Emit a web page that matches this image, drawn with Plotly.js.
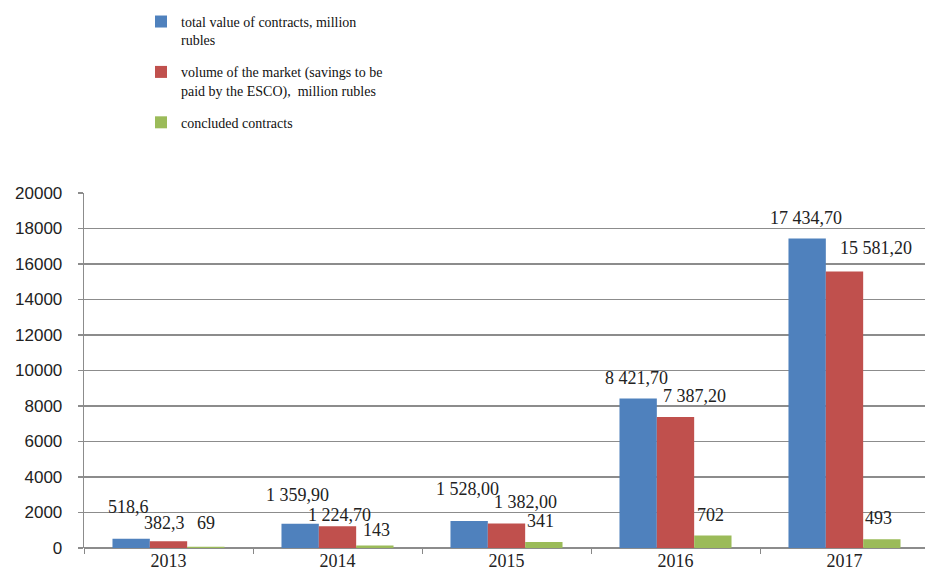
<!DOCTYPE html>
<html>
<head>
<meta charset="utf-8">
<script src="https://cdn.plot.ly/plotly-3.0.1.min.js"></script>
<style>html,body{margin:0;padding:0;background:#fff;}#chart{width:925px;height:580px;}</style>
</head>
<body>
<div id="chart"></div>
<script>
// ---- data ----
const years = ['2013', '2014', '2015', '2016', '2017'];
const seriesNames = [
  'total value of contracts, million<br>rubles',
  'volume of the market (savings to be<br>paid by the ESCO),  million rubles',
  'concluded contracts'
];
const totalValue = [518.6, 1359.9, 1528.0, 8421.7, 17434.7];
const marketVolume = [382.3, 1224.7, 1382.0, 7387.2, 15581.2];
const concludedContracts = [69, 143, 341, 702, 493];
const totalLabels = ['518,6', '1 359,90', '1 528,00', '8 421,70', '17 434,70'];
const marketLabels = ['382,3', '1 224,70', '1 382,00', '7 387,20', '15 581,20'];
const contractLabels = ['69', '143', '341', '702', '493'];
const yTicks = [0, 2000, 4000, 6000, 8000, 10000, 12000, 14000, 16000, 18000, 20000];

// ---- styling / label nudges (pixels) ----
const colors = ['#4f81bd', '#c0504d', '#9bbb59'];
const bargap = 0.337;
const labelNudge = [
  [[-3, 11], [-3, 8], [-2, 11], [-2, 0], [-1, 0]],
  [[-4, -3], [2, -10], [19, 0], [19, 0], [31, 2]],
  [[0, 3], [2, -6], [-3, 0], [-2, 0], [-3, 0]]
];

const values = [totalValue, marketVolume, concludedContracts];
const labels = [totalLabels, marketLabels, contractLabels];

const traces = values.map((v, s) => ({
  type: 'bar',
  name: seriesNames[s],
  x: years,
  y: v,
  marker: {color: colors[s], line: {width: 0}},
  legendgroup: 'g' + s,
  hoverinfo: 'x+y'
}));

const barW = (1 - bargap) / 3;
const annotations = [];
values.forEach((v, s) => {
  v.forEach((val, i) => {
    annotations.push({
      x: i + (s - 1) * barW,
      y: val,
      xref: 'x', yref: 'y',
      text: labels[s][i],
      showarrow: false,
      xanchor: 'center', yanchor: 'middle',
      xshift: labelNudge[s][i][0],
      yshift: 21 + labelNudge[s][i][1],
      font: {family: 'Liberation Serif, Times New Roman, serif', size: 18, color: '#222'}
    });
  });
});

const layout = {
  width: 925, height: 580,
  margin: {l: 84, r: 0, t: 193, b: 32, pad: 0},
  paper_bgcolor: '#fff', plot_bgcolor: '#fff',
  bargap: bargap, bargroupgap: 0, barmode: 'group',
  showlegend: true,
  legend: {
    x: 0.0678, y: 1.527, xanchor: 'left', yanchor: 'top',
    orientation: 'v', valign: 'top', tracegroupgap: 11,
    font: {family: 'Liberation Serif, Times New Roman, serif', size: 14, color: '#111'},
    bgcolor: 'rgba(0,0,0,0)', itemclick: false, itemdoubleclick: false
  },
  xaxis: {
    type: 'category',
    range: [-0.5, 4.5 - 4 / 169],
    showgrid: false, zeroline: false,
    showline: false,
    ticks: 'outside', tickson: 'boundaries', ticklen: 5, tickcolor: '#888', tickwidth: 1,
    tickfont: {family: 'Liberation Serif, Times New Roman, serif', size: 18, color: '#222'},
    fixedrange: true
  },
  yaxis: {
    range: [0, 20000],
    tickvals: yTicks,
    ticktext: yTicks.map(String),
    showgrid: true, gridcolor: '#8c8c8c', gridwidth: 1.3,
    zeroline: true, zerolinecolor: '#8c8c8c', zerolinewidth: 1.3,
    showline: true, linecolor: '#8c8c8c', linewidth: 1.3,
    ticks: 'outside', ticklen: 5, tickcolor: '#8c8c8c', tickwidth: 1.3,
    ticklabelstandoff: 12,
    tickfont: {family: 'Liberation Sans, Arial, sans-serif', size: 17, color: '#222'},
    fixedrange: true
  },
  annotations: annotations
};

Plotly.newPlot('chart', traces, layout, {displayModeBar: false, staticPlot: true});
</script>
</body>
</html>
